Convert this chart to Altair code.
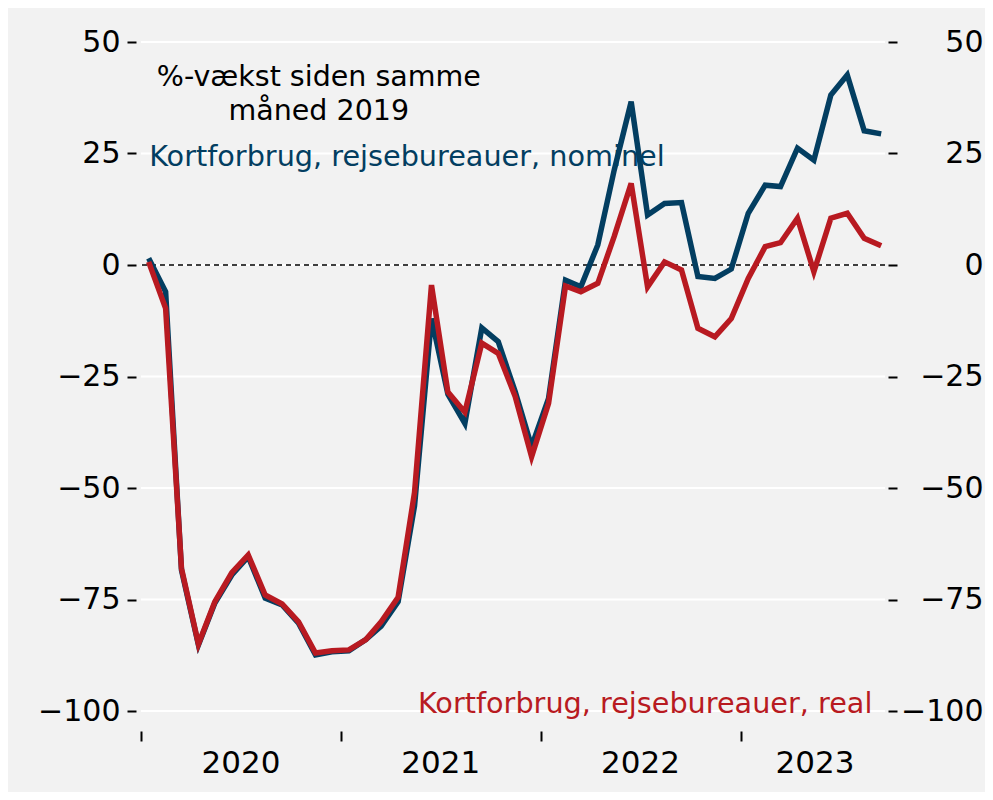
import altair as alt
import pandas as pd

# Monthly observations, Jan 2020 - Sep 2023 (plotted mid-month)
months = [d.strftime("%Y-%m-15") for d in pd.date_range("2020-01-01", periods=45, freq="MS")]

nominel = [1.5, -6.0, -68.4, -85.2, -75.8, -69.5, -65.4, -74.7, -76.2, -80.3, -87.4, -86.7,
           -86.5, -84.0, -81.0, -75.5, -54.0, -12.0, -29.0, -35.5, -14.1, -17.2, -28.4, -40.7,
           -29.9, -3.4, -4.9, 4.5, 21.3, 36.6, 11.2, 13.8, 14.0, -2.6, -3.0, -0.9,
           11.6, 17.9, 17.6, 26.2, 23.5, 38.1, 42.6, 30.1, 29.4]
real = [0.7, -9.7, -68.0, -85.0, -75.5, -69.0, -65.0, -74.0, -76.0, -80.0, -87.0, -86.5,
        -86.3, -84.0, -80.0, -74.5, -51.0, -4.5, -28.5, -33.0, -17.5, -19.8, -29.5, -43.0,
        -31.0, -4.7, -6.0, -4.1, 6.4, 18.3, -4.9, 0.7, -1.1, -14.2, -16.1, -12.0,
        -3.0, 4.1, 5.0, 10.5, -1.5, 10.5, 11.6, 6.0, 4.3]

y_ticks = [50, 25, 0, -25, -50, -75, -100]
year_ticks = ["2020-01-01", "2021-01-01", "2022-01-01", "2023-01-01"]
year_label_pos = ["2020-07-01", "2021-07-01", "2022-07-01", "2023-05-16"]

title_text = ["%-vækst siden samme", "måned 2019"]
label_nominel = "Kortforbrug, rejsebureauer, nominel"
label_real = "Kortforbrug, rejsebureauer, real"

BLUE = "#033e61"
RED = "#b81a21"
BG = "#f2f2f2"
FONT = "DejaVu Sans"

df = pd.DataFrame({"date": months, "nominel": nominel, "real": real})


def dt(s):
    y, m, d = [int(v) for v in s.split("-")]
    return alt.DateTime(year=y, month=m, date=d)


x_scale = alt.Scale(domain=[dt("2020-01-01"), dt("2023-09-22")])
y_scale = alt.Scale(domain=[-100, 50], nice=False, zero=False)

grid = alt.Chart(pd.DataFrame({"g": y_ticks})).mark_rule(color="white", strokeWidth=2).encode(
    y=alt.Y("g:Q", scale=y_scale, axis=None)
)
zero = alt.Chart(pd.DataFrame({"z": [0]})).mark_rule(
    color="black", strokeWidth=1.5, strokeDash=[5, 4]
).encode(y=alt.Y("z:Q", scale=y_scale, axis=None))

blue = alt.Chart(df).mark_line(color=BLUE, strokeWidth=5.5).encode(
    x=alt.X("date:T", scale=x_scale,
            axis=alt.Axis(orient="bottom", values=[dt(s) for s in year_ticks], labels=False,
                          domain=False, ticks=True, tickSize=10, tickWidth=2, tickColor="black",
                          offset=20, grid=False, title=None)),
    y=alt.Y("nominel:Q", scale=y_scale,
            axis=alt.Axis(orient="left", values=y_ticks, domain=False, ticks=True, tickSize=9,
                          tickWidth=2, tickColor="black", offset=5, labelPadding=7, grid=False,
                          title=None, labelFont=FONT, labelFontSize=30, labelColor="black")),
)

red = alt.Chart(df).mark_line(color=RED, strokeWidth=5.5).encode(
    x=alt.X("date:T", scale=x_scale,
            axis=alt.Axis(orient="bottom", values=[dt(s) for s in year_label_pos], format="%Y",
                          ticks=False, tickSize=0, domain=False, offset=20, labelPadding=17,
                          labelFlush=False, labelOverlap=False, grid=False, title=None,
                          labelFont=FONT, labelFontSize=31, labelColor="black")),
    y=alt.Y("real:Q", scale=y_scale,
            axis=alt.Axis(orient="right", values=y_ticks, domain=False, ticks=True, tickSize=9,
                          tickWidth=2, tickColor="black", offset=3, labelAlign="right",
                          labelPadding=86, grid=False, title=None, labelFont=FONT,
                          labelFontSize=30, labelColor="black")),
)

title_df = pd.DataFrame({"date": ["2020-11-21"], "y": [42.2], "t": ["\n".join(title_text)]})
title = alt.Chart(title_df).mark_text(
    font=FONT, fontSize=28.5, color="black", align="center", baseline="middle",
    lineBreak="\n", lineHeight=34
).encode(
    x=alt.X("date:T", scale=x_scale, axis=None),
    y=alt.Y("y:Q", scale=y_scale, axis=None),
    text="t:N",
)

nom_df = pd.DataFrame({"date": ["2020-01-16"], "y": [24.2], "t": [label_nominel]})
nom_text = alt.Chart(nom_df).mark_text(
    font=FONT, fontSize=28.7, color=BLUE, align="left", baseline="middle"
).encode(
    x=alt.X("date:T", scale=x_scale, axis=None),
    y=alt.Y("y:Q", scale=y_scale, axis=None),
    text="t:N",
)

real_df = pd.DataFrame({"date": ["2023-08-30"], "y": [-98.4], "t": [label_real]})
real_text = alt.Chart(real_df).mark_text(
    font=FONT, fontSize=28.7, color=RED, align="right", baseline="middle"
).encode(
    x=alt.X("date:T", scale=x_scale, axis=None),
    y=alt.Y("y:Q", scale=y_scale, axis=None),
    text="t:N",
)

chart = alt.layer(grid, zero, blue, red, title, nom_text, real_text).resolve_axis(
    x="independent", y="independent"
).properties(
    width=744,
    height=669,
    background=BG,
    padding={"left": 133, "top": 34, "right": 100, "bottom": 81},
    autosize=alt.AutoSizeParams(type="none"),
).configure_view(stroke=None)

chart.save("out.html", embed_options={"renderer": "svg", "actions": False})
